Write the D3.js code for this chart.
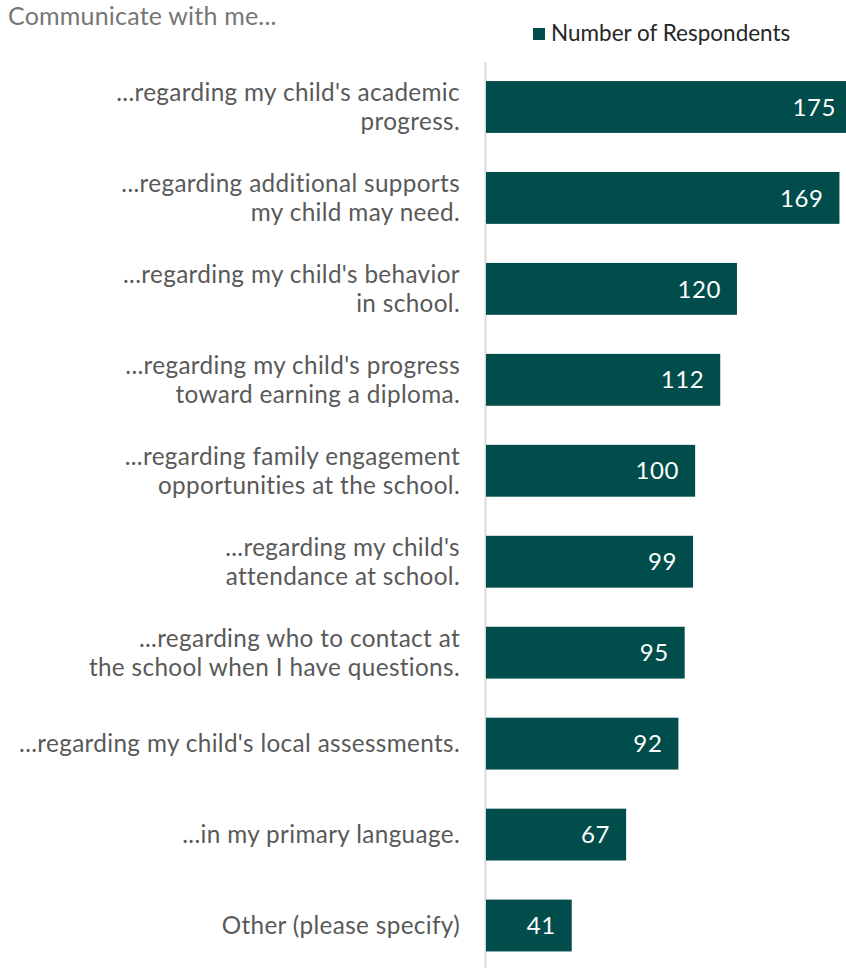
<!DOCTYPE html>
<html><head><meta charset="utf-8">
<script src="https://cdn.jsdelivr.net/npm/d3@7"></script>
<style>body{margin:0;background:#fff;} svg{display:block;}</style>
</head><body>
<svg id="chart" width="846" height="968"></svg>
<script>
const categories = [
  ["...regarding my child's academic", "progress."],
  ["...regarding additional supports", "my child may need."],
  ["...regarding my child's behavior", "in school."],
  ["...regarding my child's progress", "toward earning a diploma."],
  ["...regarding family engagement", "opportunities at the school."],
  ["...regarding my child's", "attendance at school."],
  ["...regarding who to contact at", "the school when I have questions."],
  ["...regarding my child's local assessments."],
  ["...in my primary language."],
  ["Other (please specify)"]
];
const values = [175, 169, 120, 112, 100, 99, 95, 92, 67, 41];
const seriesName = "Number of Respondents";
const title = "Communicate with me...";

const font = "Lato, 'Open Sans', sans-serif";
const barColor = "#004d4b";
const svg = d3.select("#chart");

const x = d3.scaleLinear().domain([0, 175]).range([486, 852]);
const y = d3.scaleBand().domain(d3.range(values.length)).range([61.5, 971]).paddingInner(0.43).paddingOuter(0.215);

// axis line
svg.append("line").attr("x1", 485.5).attr("x2", 485.5).attr("y1", 62).attr("y2", 968)
  .attr("stroke", "#d9d9d9").attr("stroke-width", 2);

svg.selectAll("rect.bar").data(values).join("rect").attr("class", "bar")
  .attr("x", x(0)).attr("y", (d, i) => y(i))
  .attr("width", d => x(d) - x(0)).attr("height", y.bandwidth())
  .attr("fill", barColor);

svg.selectAll("text.val").data(values).join("text").attr("class", "val")
  .attr("x", d => x(d) - 16).attr("y", (d, i) => y(i) + y.bandwidth() / 2)
  .attr("dy", "0.36em").attr("text-anchor", "end")
  .attr("fill", "#fff").attr("font-family", font).attr("font-size", 24)
  .attr("letter-spacing", 0.6)
  .text(d => d);

const lineH = 29;
categories.forEach((lines, i) => {
  const cy = y(i) + y.bandwidth() / 2;
  const t = svg.append("text").attr("text-anchor", "end")
    .attr("font-family", font).attr("font-size", 24.3).attr("letter-spacing", 0.35)
    .attr("fill", "#595959");
  lines.forEach((ln, j) => {
    t.append("tspan").attr("x", 460)
      .attr("y", cy + (j - (lines.length - 1) / 2) * lineH)
      .attr("dy", "0.36em").text(ln);
  });
});

svg.append("text").attr("x", 8).attr("y", 25).attr("font-family", font)
  .attr("font-size", 25).attr("letter-spacing", 0.2).attr("fill", "#767676").text(title);

svg.append("rect").attr("x", 533).attr("y", 28).attr("width", 12).attr("height", 12).attr("fill", barColor);
svg.append("text").attr("x", 551).attr("y", 41).attr("font-family", font)
  .attr("font-size", 22.5).attr("fill", "#262626").text(seriesName);
</script>
</body></html>
